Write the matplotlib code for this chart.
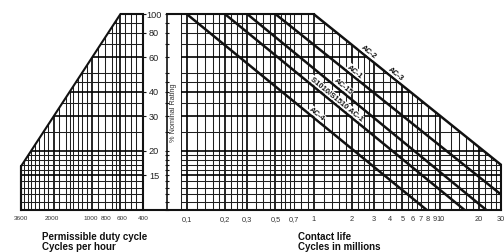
import numpy as np
import matplotlib
matplotlib.use('Agg')
import matplotlib.pyplot as plt
from matplotlib.patches import Polygon
from matplotlib.ticker import NullLocator, FixedLocator
import matplotlib.transforms as mtransforms

plt.rcParams['font.family'] = ['Liberation Sans', 'DejaVu Sans']

# ---------------- data ----------------
pct_grid = [100, 90, 80, 70, 60, 50, 45, 40, 35, 30, 25, 20, 19, 18, 17, 16, 15, 14, 13, 12, 11, 10]
pct_major = [100, 60, 40, 30, 20, 15, 10]
pct_labels = [100, 80, 60, 40, 30, 20, 15]

duty_grid = [3600, 3400, 3200, 3000, 2800, 2600, 2400, 2200, 2000, 1800, 1600, 1500, 1400,
             1300, 1200, 1100, 1000, 900, 800, 700, 650, 600, 550, 500, 450, 400]
duty_major = [2000, 1000, 600]
duty_ticks = [3600, 2000, 1000, 800, 600, 400]
duty_ticklabels = ['3600', '2000', '1000', '800', '600', '400']
duty_limit_x = [3600, 600]      # permissible duty boundary
duty_limit_y = [16.7, 100]

life_grid = [0.09, 0.1, 0.12, 0.14, 0.16, 0.18, 0.2, 0.225, 0.25, 0.275, 0.3, 0.35, 0.4, 0.45,
             0.5, 0.55, 0.6, 0.65, 0.7, 0.8, 0.9, 1, 1.2, 1.4, 1.6, 1.8, 2, 2.25, 2.5, 2.75,
             3, 3.5, 4, 4.5, 5, 5.5, 6, 6.5, 7, 8, 9, 10, 12, 14, 16, 18, 20, 22.5, 25, 27.5, 30]
life_major = [0.1, 0.2, 0.3, 0.5, 1, 2, 3, 5, 10, 20]
life_ticks = [0.1, 0.2, 0.3, 0.5, 0.7, 1, 2, 3, 4, 5, 6, 7, 8, 9, 10, 20, 30]
life_ticklabels = ['0,1', '0,2', '0,3', '0,5', '0,7', '1', '2', '3', '4', '5', '6', '7', '8', '9',
                   '10', '20', '30']

# utilisation category curves: start (x0, y0) and end (x1, y1)
curve_x0 = [0.1, 0.2, 0.3, 0.5, 1.0]
curve_y0 = [100, 100, 100, 100, 100]
curve_x1 = [7.8, 15.5, 23, 30, 30]
curve_y1 = [10, 10, 10, 12, 17]

label_texts = ['AC-4', 'S1010/S1510 AC-1', 'AC-15', 'AC-1', 'AC-2', 'AC-3']
label_curve = [0, 1, 2, 3, 4, 4]
# layout: where along the curve (life value) the label sits
label_at = [1.0, 1.42, 1.62, 2.0, 2.54, 4.15]

# ---------------- figure ----------------
W, H = 504, 253
fig = plt.figure(figsize=(W / 100, H / 100), dpi=100)
bottom_px, top_px = 211, 15
axL = fig.add_axes([21 / W, 1 - bottom_px / H, 122 / W, (bottom_px - top_px) / H])
axR = fig.add_axes([167 / W, 1 - bottom_px / H, 334 / W, (bottom_px - top_px) / H])

for ax in (axL, axR):
    ax.set_xscale('log')
    ax.set_yscale('log')
    ax.set_ylim(10, 100)
    for s in ax.spines.values():
        s.set_visible(False)
    ax.xaxis.set_minor_locator(NullLocator())
    ax.yaxis.set_minor_locator(NullLocator())
    ax.patch.set_alpha(0)

axL.set_xlim(3600, 400)
axR.set_xlim(0.07, 30)

INK = '#111111'
minor_kw = dict(color='#1e1e1e', lw=0.75)
major_kw = dict(color='#000000', lw=1.2)

# ---- left panel ----
polyL = Polygon([(duty_grid[0], 10), (duty_limit_x[0], duty_limit_y[0]),
                 (duty_limit_x[1], duty_limit_y[1]), (duty_grid[-1], 100),
                 (duty_grid[-1], 10)], closed=True, transform=axL.transData,
                facecolor='none', edgecolor='none')
axL.add_patch(polyL)
for v in duty_grid:
    kw = major_kw if v in duty_major else minor_kw
    l = axL.vlines(v, 10, 100, **kw)
    l.set_clip_path(polyL)
for p in pct_grid:
    kw = major_kw if p in pct_major else minor_kw
    l = axL.hlines(p, duty_grid[0], duty_grid[-1], **kw)
    l.set_clip_path(polyL)
# outline
axL.plot([duty_grid[0], duty_limit_x[0], duty_limit_x[1], duty_grid[-1], duty_grid[-1], duty_grid[0], duty_grid[0]],
         [10, duty_limit_y[0], duty_limit_y[1], 100, 10, 10, duty_limit_y[0]],
         color=INK, lw=1.5, solid_joinstyle='miter', clip_on=False)
axL.set_xticks(duty_ticks)
axL.set_xticklabels(duty_ticklabels, fontsize=4.6, color='#333333')
axL.tick_params(axis='x', length=0, pad=3.5)
# small nudge so the crowded 1000/800/600 labels do not touch
for lab, dx in zip(axL.get_xticklabels(), [0, -2, -1.5, 1.5, 1.5, 0]):
    lab.set_transform(lab.get_transform() + mtransforms.ScaledTranslation(dx / 100, 0, fig.dpi_scale_trans))
axL.yaxis.tick_right()
axL.yaxis.set_major_locator(FixedLocator(pct_labels))
axL.tick_params(axis='y', length=2.5, width=0.8, direction='out', labelright=False, color=INK)

# ---- right panel ----
polyR = Polygon([(life_grid[0], 10), (life_grid[0], 100), (curve_x0[-1], curve_y0[-1]),
                 (curve_x1[-1], curve_y1[-1]), (life_grid[-1], 10)], closed=True,
                transform=axR.transData, facecolor='none', edgecolor='none')
axR.add_patch(polyR)
for v in life_grid:
    kw = major_kw if v in life_major else minor_kw
    l = axR.vlines(v, 10, 100, **kw)
    l.set_clip_path(polyR)
for p in pct_grid:
    kw = major_kw if p in pct_major else minor_kw
    l = axR.hlines(p, life_grid[0], life_grid[-1], **kw)
    l.set_clip_path(polyR)

xl0 = axR.get_xlim()[0]
axR.plot([xl0, curve_x0[-1]], [100, 100], color=INK, lw=1.5, clip_on=False)
axR.plot([curve_x1[-1], life_grid[-1]], [curve_y1[-1], 10], color=INK, lw=1.5, clip_on=False)
axR.plot([-24 / 334, 1], [0, 0], transform=axR.transAxes, color=INK, lw=1.5, clip_on=False)
axR.spines['left'].set_visible(True)
axR.spines['left'].set_linewidth(1.2)
axR.spines['left'].set_color(INK)
axR.yaxis.set_major_locator(FixedLocator(pct_grid))
axR.tick_params(axis='y', direction='inout', length=3.5, width=0.8, labelleft=False, color=INK)

for x0, y0, x1, y1 in zip(curve_x0, curve_y0, curve_x1, curve_y1):
    axR.plot([x0, x1], [y0, y1], color=INK, lw=1.8, solid_capstyle='butt', clip_on=False)

axR.set_xticks(life_ticks)
axR.set_xticklabels(life_ticklabels, fontsize=5.3, color='#333333')
axR.tick_params(axis='x', length=0, pad=3.5)

# curve labels
for txt, ci, xa in zip(label_texts, label_curve, label_at):
    x0, y0, x1, y1 = curve_x0[ci], curve_y0[ci], curve_x1[ci], curve_y1[ci]
    slope = np.log(y1 / y0) / np.log(x1 / x0)
    ya = y0 * (xa / x0) ** slope
    p0 = axR.transData.transform((x0, y0))
    p1 = axR.transData.transform((x1, y1))
    ang = np.arctan2(p1[1] - p0[1], p1[0] - p0[0])
    off = 3.8
    tr = mtransforms.offset_copy(axR.transData, fig=fig, x=-np.sin(ang) * off,
                                 y=np.cos(ang) * off, units='points')
    axR.text(xa, ya, txt, transform=tr, rotation=np.degrees(ang), rotation_mode='anchor',
             ha='center', va='center', fontsize=5.5, fontweight='bold', color='#111111',
             bbox=dict(boxstyle='square,pad=0.05', fc='white', ec='none'))

# y tick labels in the gap
trY = mtransforms.blended_transform_factory(fig.transFigure, axR.transData)
for p in pct_labels:
    axR.text(154 / W, p, str(p), transform=trY, ha='center', va='center',
             fontsize=6.6, color='#222222')

fig.text(173.5 / W, 1 - 113 / H, '% Nominal Rating', rotation=90, ha='center', va='center',
         fontsize=5.3, color='#333333')

fig.text(42 / W, 1 - 236.5 / H, 'Permissible duty cycle', ha='left', va='center',
         fontsize=7, fontweight='bold', color='#111111')
fig.text(42 / W, 1 - 247.5 / H, 'Cycles per hour', ha='left', va='center',
         fontsize=7, fontweight='bold', color='#111111')
fig.text(298 / W, 1 - 236.5 / H, 'Contact life', ha='left', va='center',
         fontsize=7, fontweight='bold', color='#111111')
fig.text(298 / W, 1 - 247.5 / H, 'Cycles in millions', ha='left', va='center',
         fontsize=7, fontweight='bold', color='#111111')

fig.savefig('out.png', dpi=100, facecolor='white')
